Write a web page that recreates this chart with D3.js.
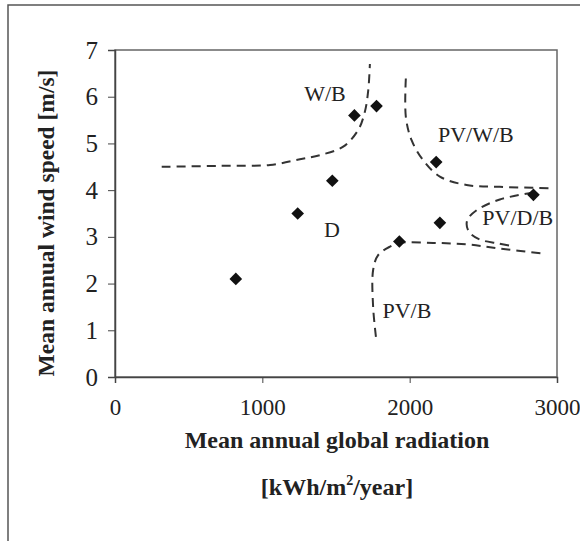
<!DOCTYPE html>
<html>
<head>
<meta charset="utf-8">
<script src="https://cdn.jsdelivr.net/npm/d3@7"></script>
<style>
  body { margin: 0; background: #fff; }
  text { font-family: "Liberation Serif", "DejaVu Serif", serif; fill: #222; }
</style>
</head>
<body>
<svg id="chart" width="580" height="541"></svg>
<script>
// measured sites: global radiation [kWh/m2/year] vs wind speed [m/s]
const radiation = [820, 1240, 1475, 1625, 1775, 1930, 2180, 2205, 2840]
const windSpeed = [2.1, 3.5, 4.2, 5.6, 5.8, 2.9, 4.6, 3.3, 3.9]

// hand-drawn region boundaries
const boundaryWB = [[317, 4.5], [700, 4.52], [1052, 4.54], [1255, 4.66], [1391, 4.75], [1549, 4.93], [1651, 5.29], [1696, 5.68], [1719, 6.14], [1730, 6.7]]
const boundaryPVWB = [[1974, 6.39], [1974, 5.57], [2013, 5.07], [2092, 4.64], [2205, 4.29], [2386, 4.11], [2612, 4.07], [2974, 4.04]]
const boundaryPVDB = [[2840, 3.95], [2612, 3.8], [2454, 3.57], [2390, 3.35], [2400, 3.12], [2470, 2.95], [2600, 2.86], [2700, 2.8]]
const boundaryPVB = [[1771, 0.86], [1752, 1.5], [1752, 2.29], [1786, 2.61], [1866, 2.79], [1934, 2.87], [2160, 2.87], [2386, 2.84], [2612, 2.75], [2906, 2.64]]

const regionNames = ['W/B', 'PV/W/B', 'PV/D/B', 'D', 'PV/B']
const regionX = [1425, 2449, 2734, 1472, 1981]
const regionY = [5.9, 5.03, 3.25, 2.99, 1.26]

const xTicks = [0, 1000, 2000, 3000]
const yTicks = [0, 1, 2, 3, 4, 5, 6, 7]

const svg = d3.select('#chart')
const margin = {left: 115, right: 23, top: 50, bottom: 164}
const width = 580 - margin.left - margin.right
const height = 541 - margin.top - margin.bottom

// outer frame
svg.append('rect')
    .attr('x', 8).attr('y', 5)
    .attr('width', 600).attr('height', 600)
    .attr('fill', 'none').attr('stroke', '#555').attr('stroke-width', 1.5)

const plot = svg.append('g').attr('transform', `translate(${margin.left}, ${margin.top})`)

const scaleX = d3.scaleLinear().domain([0, 3000]).range([0, width])
const scaleY = d3.scaleLinear().domain([0, 7]).range([height, 0])

plot.append('rect')
    .attr('width', width).attr('height', height)
    .attr('fill', 'none').attr('stroke', '#666').attr('stroke-width', 1.5)

const axisX = d3.axisBottom(scaleX).tickValues(xTicks).tickFormat(d3.format('d')).tickSize(6).tickPadding(16)
const axisY = d3.axisLeft(scaleY).tickValues(yTicks).tickFormat(d3.format('d')).tickSize(7).tickPadding(10)

plot.append('g')
    .attr('transform', `translate(0, ${height})`)
    .call(axisX)
    .call(g => g.select('.domain').attr('stroke', '#444').attr('stroke-width', 1.5))
    .call(g => g.selectAll('.tick line').attr('stroke', '#444'))
    .call(g => g.selectAll('text').attr('font-size', 23).attr('font-family', 'Liberation Serif').attr('fill', '#222'))

plot.append('g')
    .call(axisY)
    .call(g => g.select('.domain').attr('stroke', '#444').attr('stroke-width', 1.5))
    .call(g => g.selectAll('.tick line').attr('stroke', '#444'))
    .call(g => g.selectAll('text').attr('font-size', 25).attr('font-family', 'Liberation Serif').attr('fill', '#222'))

const lineGenerator = d3.line().x(d => scaleX(d[0])).y(d => scaleY(d[1])).curve(d3.curveCatmullRom)

plot.selectAll('path.boundary')
    .data([boundaryWB, boundaryPVWB, boundaryPVDB, boundaryPVB])
    .join('path')
    .attr('class', 'boundary')
    .attr('d', lineGenerator)
    .attr('fill', 'none')
    .attr('stroke', '#333')
    .attr('stroke-width', 2)
    .attr('stroke-dasharray', '9,6')

const symbol = d3.symbol().type(d3.symbolSquare).size(80)
plot.selectAll('path.site')
    .data(radiation.map((r, i) => [r, windSpeed[i]]))
    .join('path')
    .attr('class', 'site')
    .attr('d', symbol)
    .attr('transform', d => `translate(${scaleX(d[0])}, ${scaleY(d[1])}) rotate(45)`)
    .attr('fill', '#111')

plot.selectAll('text.region')
    .data(regionNames)
    .join('text')
    .attr('class', 'region')
    .attr('x', (d, i) => scaleX(regionX[i]))
    .attr('y', (d, i) => scaleY(regionY[i]))
    .attr('text-anchor', 'middle')
    .attr('font-size', 22)
    .text(d => d)

// axis titles
svg.append('text')
    .attr('x', 337).attr('y', 448)
    .attr('text-anchor', 'middle')
    .attr('font-size', 24).attr('font-weight', 'bold')
    .text('Mean annual global radiation')

const xUnit = svg.append('text')
    .attr('x', 337).attr('y', 495)
    .attr('text-anchor', 'middle')
    .attr('font-size', 24).attr('font-weight', 'bold')
xUnit.append('tspan').text('[kWh/m')
xUnit.append('tspan').attr('font-size', 14).attr('dy', -10).text('2')
xUnit.append('tspan').attr('dy', 10).text('/year]')

svg.append('text')
    .attr('transform', 'translate(54, 223) rotate(-90)')
    .attr('text-anchor', 'middle')
    .attr('font-size', 23.5).attr('font-weight', 'bold')
    .text('Mean annual wind speed [m/s]')
</script>
</body>
</html>
